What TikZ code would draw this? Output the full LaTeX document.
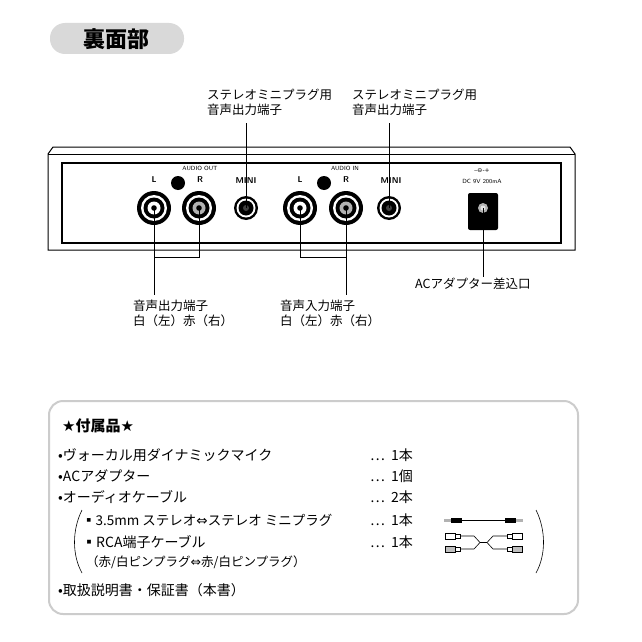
\documentclass[tikz,border=0pt]{standalone}
\usepackage{fontspec}
\setmainfont{Noto Sans CJK JP}
\newfontfamily\heavyf{Noto Sans CJK JP Black}
\newfontfamily\symf{DejaVu Sans}
\begin{document}
\begin{tikzpicture}[x=1pt,y=-1pt,
  txt/.style={font=\fontsize{14}{16}\selectfont,anchor=west,inner sep=0pt},
  lbl/.style={font=\fontsize{12.5}{15}\selectfont,anchor=north west,align=left,inner sep=0pt},
  tiny/.style={font=\fontsize{6}{6}\selectfont\sffamily,inner sep=0pt},
  small/.style={font=\fontsize{8.5}{9}\selectfont\sffamily\bfseries,inner sep=0pt},
  lead/.style={line width=0.8pt}]
\useasboundingbox (0,0) rectangle (642,642);
\fill[white] (0,0) rectangle (642,642);
% title
\fill[gray!30,rounded corners=15pt] (50,23) rectangle (184,54);
\node[font=\fontsize{22}{24}\selectfont\bfseries] (title) at (116,39) {裏面部};
% device
\draw[line width=1pt] (48,154) -- (53,147) -- (570,147) -- (575,154) -- (575,250) -- (48,250) -- cycle;
\draw[line width=0.8pt] (48,154) -- (575,154);
\draw[line width=2pt] (62,163) rectangle (561,243);
\node[tiny] (ao) at (200,168) {AUDIO OUT};
\node[tiny] (ai) at (345,168) {AUDIO IN};
\foreach \x/\n in {154/lo,300/li}{
  \node[small] at (\x,180) {L};
  \node[small] at (\x+46,180) {R};
  \fill (\x+24,183) circle (7);
}
\node[small] at (246,181) {MINI};
\node[small] at (391,181) {MINI};
\node[tiny] at (482,171) {--\symf ⊖-+};
\node[tiny] at (482,181) {DC 9V 200mA};
% RCA jacks
\foreach \x/\n/\c in {154/lo/white,199/ro/gray!60,300/li/white,346/ri/gray!60}{
  \fill (\x,208) circle (17);
  \fill[white] (\x,208) circle (13);
  \fill (\x,208) circle (10.5);
  \fill[\c] (\x,208) circle (6.5);
  \fill (\x,208) circle (2.8);
  \coordinate (\n) at (\x,208);
}
\foreach \x/\n in {246/m1,389/m2}{
  \fill (\x,208) circle (12);
  \fill[white] (\x,208) circle (9.5);
  \fill (\x,208) circle (7.5);
  \fill[gray!50!black] (\x,208) circle (3);
  \coordinate (\n) at (\x,208);
}
\fill[rounded corners=2pt] (468,193) rectangle (498,230);
\fill[gray!60] (483,208) circle (5);
\fill[gray!20] (483,208) circle (2.5);
\coordinate (dc) at (483,208);
% top labels
\node[lbl] (t1) at (207,89) {ステレオミニプラグ用\\音声出力端子};
\node[lbl] (t2) at (352,89) {ステレオミニプラグ用\\音声出力端子};
\draw[lead] (m1) -- (246,123);
\draw[lead] (m2) -- (389,123);
% bottom labels
\draw[lead] (lo) -- (154,295);
\draw[lead] (ro) -- (199,257) -- (154,257);
\draw[lead] (li) -- (300,257) -- (346,257);
\draw[lead] (ri) -- (346,295);
\draw[lead] (dc) -- (483,277);
\node[lbl] (b1) at (133,300) {音声出力端子\\白（左）赤（右）};
\node[lbl] (b2) at (280,300) {音声入力端子\\白（左）赤（右）};
\node[lbl] (b3) at (415,278) {ACアダプター差込口};
% accessories box
\draw[gray!40,line width=2pt,rounded corners=14pt] (49,401) rectangle (578,614);
\node[txt,font=\fontsize{15}{16}\selectfont\bfseries] (h) at (62,426) {{\symf ★}付属品{\symf ★}};
\node[txt] (i1) at (58,455) {•ヴォーカル用ダイナミックマイク};
\node[txt] (i2) at (58,476) {•ACアダプター};
\node[txt] (i3) at (58,497) {•オーディオケーブル};
\node[txt,font=\fontsize{13.5}{16}\selectfont] (i4) at (82,520) {▪3.5mm ステレオ{\symf ⇔}ステレオ ミニプラグ};
\node[txt] (i5) at (82,542) {▪RCA端子ケーブル};
\node[txt,font=\fontsize{12.5}{14}\selectfont] (i6) at (86,562) {（赤/白ピンプラグ{\symf ⇔}赤/白ピンプラグ）};
\node[txt] (i7) at (58,590) {•取扱説明書・保証書（本書）};
\foreach \y/\t in {455/1本,476/1個,497/2本,520/1本,542/1本}{
  \node[txt] at (370,\y) {…\hspace{6pt}\t};
}
\draw[line width=0.6pt] (82,510) .. controls (72,530) and (72,555) .. (82,573);
\draw[line width=0.6pt] (536,510) .. controls (546,530) and (546,555) .. (536,573);
% mini cable
\draw[line width=1pt] (452,520) -- (515,520);
\fill (451,517.5) rectangle (462,522.5);
\fill (505,517.5) rectangle (516,522.5);
\fill[gray!60] (444,518.5) rectangle (451,521.5);
\fill[gray!60] (516,518.5) rectangle (523,521.5);
% RCA cable
\foreach \y/\c in {536/white,549/gray!50}{
  \draw[fill=\c,line width=0.5pt] (445,\y-3) rectangle (455,\y+3);
  \draw[fill=\c,line width=0.5pt] (512,\y-3) rectangle (522,\y+3);
  \draw[line width=0.5pt] (455,\y-2) rectangle (460,\y+2);
  \draw[line width=0.5pt] (507,\y-2) rectangle (512,\y+2);
}
\draw[line width=0.6pt] (460,536) -- (474,536) -- (480,542.5) -- (487,542.5) -- (493,536) -- (507,536);
\draw[line width=0.6pt] (460,549) -- (474,549) -- (480,542.5);
\draw[line width=0.6pt] (487,542.5) -- (493,549) -- (507,549);
\end{tikzpicture}
\end{document}
